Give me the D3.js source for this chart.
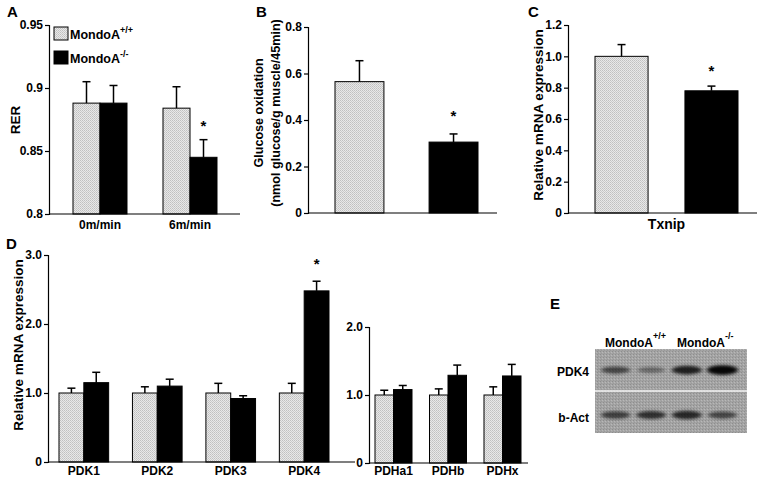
<!DOCTYPE html>
<html><head><meta charset="utf-8">
<script src="https://cdn.jsdelivr.net/npm/d3@7"></script>
<style>
body{margin:0;background:#fff;}
svg{display:block;font-family:"Liberation Sans",Arial,sans-serif;font-weight:bold;}
</style></head><body>
<svg id="c" width="762" height="480"></svg>
<script>
// ---- data ----
const seriesNames = ["MondoA+/+", "MondoA-/-"];
// Panel A
const aCats = ["0m/min", "6m/min"];
const aWT = [0.888, 0.884], aWTerr = [0.017, 0.017];
const aKO = [0.888, 0.845], aKOerr = [0.014, 0.014];
const aTicks = [0.8, 0.85, 0.9, 0.95];
// Panel B
const bVals = [0.565, 0.305], bErr = [0.09, 0.035];
const bTicks = [0, 0.2, 0.4, 0.6, 0.8];
// Panel C
const cVals = [1.0, 0.78], cErr = [0.075, 0.03];
const cTicks = [0, 0.2, 0.4, 0.6, 0.8, 1.0, 1.2];
// Panel D
const dCats1 = ["PDK1", "PDK2", "PDK3", "PDK4"];
const dWT1 = [1.0, 1.0, 1.0, 1.0], dWT1err = [0.07, 0.09, 0.14, 0.14];
const dKO1 = [1.15, 1.10, 0.92, 2.48], dKO1err = [0.15, 0.10, 0.04, 0.14];
const dCats2 = ["PDHa1", "PDHb", "PDHx"];
const dWT2 = [1.0, 1.0, 1.0], dWT2err = [0.07, 0.09, 0.12];
const dKO2 = [1.08, 1.29, 1.28], dKO2err = [0.06, 0.15, 0.17];
const dTicks1 = [0, 1, 2, 3], dTicks2 = [0, 1, 2];
// Panel E (band intensity 0..1)
const eLanes = [1, 2, 3, 4];
const ePDK4 = [0.45, 0.18, 0.75, 0.95];
const eAct = [0.5, 0.62, 0.68, 0.45];

const svg = d3.select("#c");
const defs = svg.append("defs");
const pat = defs.append("pattern").attr("id","stip").attr("width",2).attr("height",2).attr("patternUnits","userSpaceOnUse");
pat.append("rect").attr("width",2).attr("height",2).attr("fill","#e8e8e8");
pat.append("rect").attr("width",1).attr("height",1).attr("fill","#c0c0c0");
pat.append("rect").attr("x",1).attr("y",1).attr("width",1).attr("height",1).attr("fill","#cbcbcb");
const bp = defs.append("pattern").attr("id","blotbg").attr("width",3).attr("height",3).attr("patternUnits","userSpaceOnUse");
bp.append("rect").attr("width",3).attr("height",3).attr("fill","#a4a4a4");
bp.append("rect").attr("width",1).attr("height",1).attr("fill","#8e8e8e");
bp.append("rect").attr("x",2).attr("y",1).attr("width",1).attr("height",1).attr("fill","#b8b8b8");
bp.append("rect").attr("x",1).attr("y",2).attr("width",1).attr("height",1).attr("fill","#999");
defs.append("filter").attr("id","blur").attr("x","-50%").attr("y","-100%").attr("width","200%").attr("height","300%")
  .append("feGaussianBlur").attr("stdDeviation","2.2 1.6");

const fills = ["url(#stip)", "#000"];

function yAxis(y, x0, ticks, fmt) {
  const g = svg.append("g").attr("transform", `translate(${x0},0)`)
    .call(d3.axisLeft(y).tickValues(ticks).tickFormat(fmt).tickSize(4).tickPadding(2));
  g.select(".domain").attr("stroke","#000").attr("stroke-width",1.2);
  g.selectAll(".tick line").attr("stroke","#000").attr("stroke-width",1.2);
  g.selectAll(".tick text").attr("font-size",12).attr("font-weight","bold").attr("font-family","Liberation Sans, Arial, sans-serif").attr("fill","#000");
  return g;
}
function xLine(y0, xa, xb) {
  svg.append("line").attr("x1",xa).attr("x2",xb).attr("y1",y0).attr("y2",y0).attr("stroke","#000").attr("stroke-width",1.2);
}
function bar(x, w, y, v, err, base, fill) {
  const top = y(v);
  svg.append("rect").attr("x",x).attr("y",top).attr("width",w).attr("height",y(base)-top)
    .attr("fill",fill).attr("stroke","#000").attr("stroke-width",1);
  const cx = x + w/2, et = y(v+err);
  svg.append("line").attr("x1",cx).attr("x2",cx).attr("y1",top).attr("y2",et).attr("stroke","#000").attr("stroke-width",1.5);
  svg.append("line").attr("x1",cx-4).attr("x2",cx+4).attr("y1",et).attr("y2",et).attr("stroke","#000").attr("stroke-width",1.5);
}
function star(x, yv) {
  svg.append("text").attr("x",x).attr("y",yv+6).attr("text-anchor","middle").attr("font-size",15).text("*");
}
function letter(t, x, y) {
  svg.append("text").attr("x",x).attr("y",y).attr("font-size",15).text(t);
}
function rotLabel(lines, x, y, size, gap) {
  const t = svg.append("text").attr("transform",`translate(${x},${y}) rotate(-90)`).attr("text-anchor","middle").attr("font-size",size);
  lines.forEach((l,i)=>t.append("tspan").attr("x",0).attr("dy", i===0?0:gap).text(l));
}
function grouped(cats, wt, wte, ko, koe, y, xr, pi, labelY, base) {
  const x = d3.scaleBand().domain(cats).range(xr).paddingInner(pi).paddingOuter(0);
  const xs = d3.scaleBand().domain(seriesNames).range([0, x.bandwidth()]);
  cats.forEach((c,i)=>{
    bar(x(c)+xs(seriesNames[0]), xs.bandwidth(), y, wt[i], wte[i], base, fills[0]);
    bar(x(c)+xs(seriesNames[1]), xs.bandwidth(), y, ko[i], koe[i], base, fills[1]);
    svg.append("text").attr("x",x(c)+x.bandwidth()/2).attr("y",labelY).attr("text-anchor","middle").attr("font-size",12).text(c);
  });
  return {x, xs};
}

// ---- Panel A ----
letter("A", 7, 17);
const yA = d3.scaleLinear().domain([0.8, 0.95]).range([214, 25]);
const gA = grouped(aCats, aWT, aWTerr, aKO, aKOerr, yA, [73, 217], 0.4, 229, 0.8);
xLine(214, 49, 240);
yAxis(yA, 49, aTicks, d3.format(""));
rotLabel(["RER"], 20, 120, 13.5, 0);
star(gA.x(aCats[1]) + gA.xs(seriesNames[1]) + gA.xs.bandwidth()/2, yA(0.871));
// legend
[0,1].forEach(i=>{
  const ly = 27 + i*24;
  svg.append("rect").attr("x",54).attr("y",ly).attr("width",14).attr("height",13).attr("fill",fills[i]).attr("stroke","#000").attr("stroke-width",1);
  const t = svg.append("text").attr("x",70).attr("y",ly+12).attr("font-size",12.5);
  t.append("tspan").text("MondoA");
  t.append("tspan").attr("font-size",9).attr("dy",-6).text(i===0?"+/+":"-/-");
});

// ---- Panel B ----
letter("B", 256, 17);
const yB = d3.scaleLinear().domain([0, 0.8]).range([213, 27]);
const xB = d3.scaleBand().domain(seriesNames).range([335, 478]).paddingInner(0.48);
seriesNames.forEach((s,i)=>bar(xB(s), xB.bandwidth(), yB, bVals[i], bErr[i], 0, fills[i]));
xLine(213, 308, 497);
yAxis(yB, 308, bTicks, d=> d===0?"0":d3.format(".1f")(d));
rotLabel(["Glucose oxidation", "(nmol glucose/g muscle/45min)"], 263, 113, 12.6, 16.5);
star(xB(seriesNames[1]) + xB.bandwidth()/2, yB(0.42));

// ---- Panel C ----
letter("C", 528, 17);
const yC = d3.scaleLinear().domain([0, 1.2]).range([213, 25]);
const xC = d3.scaleBand().domain(seriesNames).range([595, 738]).paddingInner(0.41);
seriesNames.forEach((s,i)=>bar(xC(s), xC.bandwidth(), yC, cVals[i], cErr[i], 0, fills[i]));
xLine(213, 568, 757);
yAxis(yC, 568, cTicks, d=> d===0?"0":d3.format(".1f")(d));
rotLabel(["Relative mRNA expression"], 543, 115, 13.5, 0);
star(xC(seriesNames[1]) + xC.bandwidth()/2, yC(0.91));
svg.append("text").attr("x",(595+738)/2).attr("y",229).attr("text-anchor","middle").attr("font-size",14).text("Txnip");

// ---- Panel D ----
letter("D", 6, 249);
const yD1 = d3.scaleLinear().domain([0, 3]).range([462, 255]);
const gD1 = grouped(dCats1, dWT1, dWT1err, dKO1, dKO1err, yD1, [59, 329], 0.324, 475, 0);
xLine(462, 48, 355);
yAxis(yD1, 48, dTicks1, d=> d===0?"0":d3.format(".1f")(d));
rotLabel(["Relative mRNA expression"], 23, 345, 13.5, 0);
star(gD1.x("PDK4") + gD1.xs(seriesNames[1]) + gD1.xs.bandwidth()/2, yD1(2.88));

const yD2 = d3.scaleLinear().domain([0, 2]).range([463, 327]);
grouped(dCats2, dWT2, dWT2err, dKO2, dKO2err, yD2, [375, 521], 0.321, 475, 0);
xLine(463, 369, 528);
yAxis(yD2, 369, dTicks2, d=> d===0?"0":d3.format(".1f")(d));

// ---- Panel E ----
letter("E", 550, 309);
const xE = d3.scaleBand().domain(eLanes).range([601, 737]).paddingInner(0.18);
svg.append("rect").attr("x",595).attr("y",349).attr("width",152).attr("height",84).attr("fill","url(#blotbg)");
svg.append("line").attr("x1",595).attr("x2",747).attr("y1",391).attr("y2",391).attr("stroke","#f4f4f4").attr("stroke-width",1.3);
function bands(vals, cy) {
  vals.forEach((v,i)=>{
    svg.append("ellipse").attr("cx",xE(eLanes[i])+xE.bandwidth()/2).attr("cy",cy)
      .attr("rx",xE.bandwidth()/2 - 1 + v*2).attr("ry",2.5+v*2.5)
      .attr("fill","#000")
      .attr("fill-opacity", 0.25+0.75*v).attr("filter","url(#blur)");
  });
}
bands(ePDK4, 370);
bands(eAct, 415);
svg.append("text").attr("x",589).attr("y",376).attr("text-anchor","end").attr("font-size",12).text("PDK4");
svg.append("text").attr("x",589).attr("y",422).attr("text-anchor","end").attr("font-size",12).text("b-Act");
[[605,"+/+"],[677,"-/-"]].forEach(([x,s])=>{
  const t = svg.append("text").attr("x",x).attr("y",347).attr("font-size",12);
  t.append("tspan").text("MondoA");
  t.append("tspan").attr("font-size",9).attr("dy",-8).text(s);
});
</script>
</body></html>
